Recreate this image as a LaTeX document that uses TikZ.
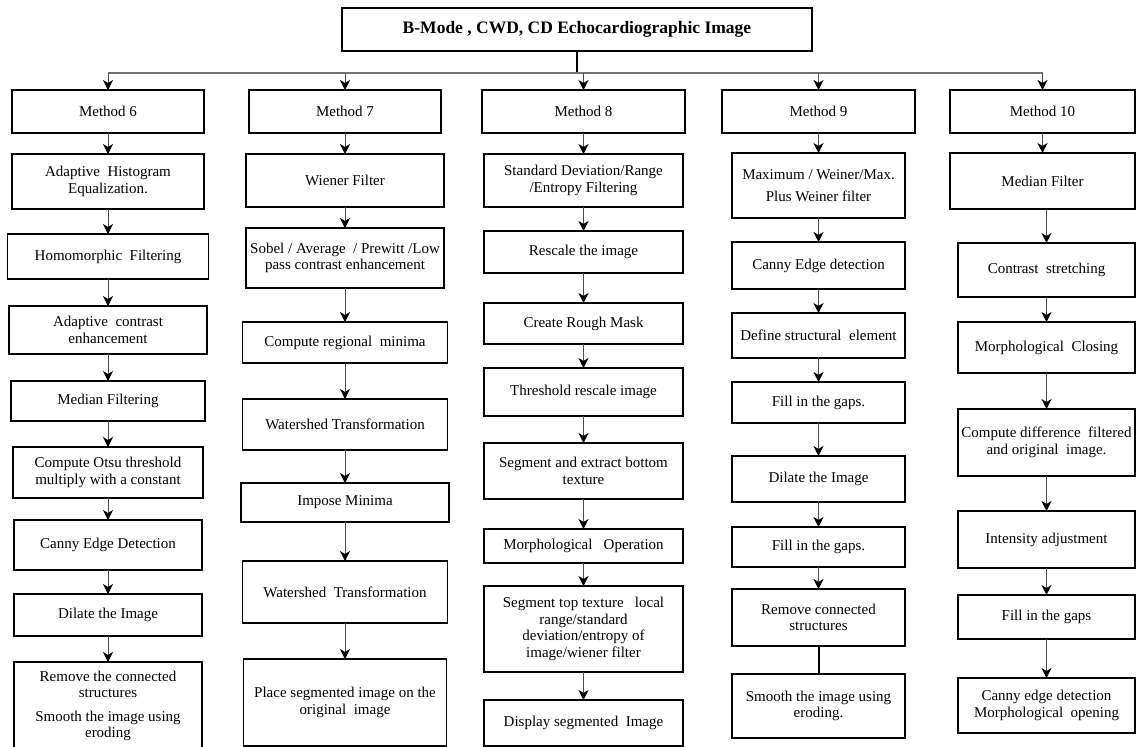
\documentclass[tikz,border=0pt]{standalone}
\usepackage{fontspec}
\setmainfont{Liberation Serif}
\usetikzlibrary{positioning,arrows.meta}

\tikzset{
  stepbox/.style={draw, line width=1.1pt, inner sep=0pt, outer sep=0pt, align=center,
    font=\fontsize{15}{16.5}\selectfont},
  boxsize/.style 2 args={minimum width=#1, minimum height=#2},
  flow/.style={draw=black!70, line width=1pt,
    -{Stealth[length=10pt,width=10pt,inset=3pt,color=black]}},
  trunk/.style={draw, line width=2pt},
  busline/.style={draw=black!55, line width=1.6pt},
}

\begin{document}
\begin{tikzpicture}[x=1pt,y=-1pt]
  \clip (0,0) rectangle (1136,747);
  \fill[white] (0,0) rectangle (1136,747);

  % source image
  \node[stepbox, boxsize={470pt}{43pt}, font=\fontsize{17.5}{20}\selectfont\bfseries] (title) at (577,29.5)
    {B-Mode , CWD, CD Echocardiographic Image};
  \coordinate (bus) at (577,73);

  % method 6
  \node[stepbox, boxsize={192pt}{43pt}] (m6) at (108,111.5) {Method 6};
  \node[stepbox, boxsize={192pt}{55pt}, below=21pt of m6] (c1a) {Adaptive\ \ Histogram\\Equalization.};
  \node[stepbox, boxsize={201pt}{45pt}, below=25pt of c1a] (c1b) {Homomorphic\ \ Filtering};
  \node[stepbox, boxsize={198pt}{48pt}, below=27pt of c1b] (c1c) {Adaptive\ \ contrast\\enhancement};
  \node[stepbox, boxsize={194pt}{40pt}, below=27pt of c1c] (c1d) {Median Filtering};
  \node[stepbox, boxsize={190pt}{51pt}, below=26pt of c1d] (c1e) {Compute Otsu threshold\\multiply with a constant};
  \node[stepbox, boxsize={188pt}{50pt}, below=22pt of c1e] (c1f) {Canny Edge Detection};
  \node[stepbox, boxsize={188pt}{42pt}, below=24pt of c1f] (c1g) {Dilate the Image};
  \node[stepbox, boxsize={188pt}{88pt}, below=26pt of c1g] (c1h)
    {Remove the connected\\structures\\[7pt]Smooth the image using\\eroding};

  % method 7
  \node[stepbox, boxsize={192pt}{43pt}] (m7) at (345,111.5) {Method 7};
  \node[stepbox, boxsize={198pt}{53pt}, below=21pt of m7] (c2a) {Wiener Filter};
  \node[stepbox, boxsize={198pt}{60pt}, below=21pt of c2a] (c2b) {Sobel / Average\ \ / Prewitt /Low\\pass contrast enhancement};
  \node[stepbox, boxsize={205pt}{41pt}, below=34pt of c2b] (c2c) {Compute regional\ \ minima};
  \node[stepbox, boxsize={205pt}{51pt}, below=36pt of c2c] (c2d) {Watershed Transformation};
  \node[stepbox, boxsize={208pt}{39pt}, below=33pt of c2d] (c2e) {Impose Minima};
  \node[stepbox, boxsize={205pt}{62pt}, below=39pt of c2e] (c2f) {Watershed\ \ Transformation};
  \node[stepbox, boxsize={203pt}{87pt}, below=36pt of c2f] (c2g) {Place segmented image on the\\original\ \ image};

  % method 8
  \node[stepbox, boxsize={203pt}{43pt}] (m8) at (583.5,111.5) {Method 8};
  \node[stepbox, boxsize={199pt}{53pt}, below=21pt of m8] (c3a) {Standard Deviation/Range\\/Entropy Filtering};
  \node[stepbox, boxsize={199pt}{42pt}, below=24pt of c3a] (c3b) {Rescale the image};
  \node[stepbox, boxsize={199pt}{41pt}, below=30pt of c3b] (c3c) {Create Rough Mask};
  \node[stepbox, boxsize={199pt}{48pt}, below=24pt of c3c] (c3d) {Threshold rescale image};
  \node[stepbox, boxsize={199pt}{56pt}, below=27pt of c3d] (c3e) {Segment and extract bottom\\texture};
  \node[stepbox, boxsize={199pt}{34pt}, below=30pt of c3e] (c3f) {Morphological\ \ \ Operation};
  \node[stepbox, boxsize={199pt}{86pt}, below=23pt of c3f] (c3g)
    {Segment top texture\ \ \ local\\range/standard\\deviation/entropy of\\image/wiener filter};
  \node[stepbox, boxsize={199pt}{46pt}, below=28pt of c3g] (c3h) {Display segmented\ \ Image};

  % method 9
  \node[stepbox, boxsize={193pt}{43pt}] (m9) at (818.5,111.5) {Method 9};
  \node[stepbox, boxsize={173pt}{65pt}, below=20pt of m9] (c4a) {Maximum / Weiner/Max.\\[6pt]Plus Weiner filter};
  \node[stepbox, boxsize={173pt}{47pt}, below=24pt of c4a] (c4b) {Canny Edge detection};
  \node[stepbox, boxsize={173pt}{45pt}, below=24pt of c4b] (c4c) {Define structural\ \ element};
  \node[stepbox, boxsize={173pt}{41pt}, below=24pt of c4c] (c4d) {Fill in the gaps.};
  \node[stepbox, boxsize={173pt}{46pt}, below=33pt of c4d] (c4e) {Dilate the Image};
  \node[stepbox, boxsize={173pt}{40pt}, below=25pt of c4e] (c4f) {Fill in the gaps.};
  \node[stepbox, boxsize={173pt}{57pt}, below=22pt of c4f] (c4g) {Remove connected\\structures};
  \node[stepbox, boxsize={173pt}{64pt}, below=28pt of c4g] (c4h) {Smooth the image using\\eroding.};

  % method 10
  \node[stepbox, boxsize={185pt}{43pt}] (m10) at (1042.5,111.5) {Method 10};
  \node[stepbox, boxsize={185pt}{56pt}, below=20pt of m10] (c5a) {Median Filter};
  \node[stepbox, boxsize={177pt}{54pt}, below=34pt of c5a, xshift=4pt] (c5b) {Contrast\ \ stretching};
  \node[stepbox, boxsize={177pt}{51pt}, below=25pt of c5b] (c5c) {Morphological\ \ Closing};
  \node[stepbox, boxsize={177pt}{67pt}, below=36pt of c5c] (c5d) {Compute difference\ \ filtered\\and original\ \ image.};
  \node[stepbox, boxsize={177pt}{57pt}, below=35pt of c5d] (c5e) {Intensity adjustment};
  \node[stepbox, boxsize={177pt}{44pt}, below=27pt of c5e] (c5f) {Fill in the gaps};
  \node[stepbox, boxsize={177pt}{55pt}, below=39pt of c5f] (c5g) {Canny edge detection\\Morphological\ \ opening};

  % branches
  \draw[trunk] (title) -- (bus);
  \draw[busline] (bus -| m6) -- (bus -| m10);
  \foreach \m in {m6,m7,m8,m9,m10}
    \draw[flow] (bus -| \m.north) -- (\m.north);

  % steps
  \foreach \a/\b in {m6/c1a,c1a/c1b,c1b/c1c,c1c/c1d,c1d/c1e,c1e/c1f,c1f/c1g,c1g/c1h,
                     m7/c2a,c2a/c2b,c2b/c2c,c2c/c2d,c2d/c2e,c2e/c2f,c2f/c2g,
                     m8/c3a,c3a/c3b,c3b/c3c,c3c/c3d,c3d/c3e,c3e/c3f,c3f/c3g,c3g/c3h,
                     m9/c4a,c4a/c4b,c4b/c4c,c4c/c4d,c4d/c4e,c4e/c4f,c4f/c4g,
                     m10/c5a,c5a/c5b,c5b/c5c,c5c/c5d,c5d/c5e,c5e/c5f,c5f/c5g}
    \draw[flow] (\b.north |- \a.south) -- (\b.north);
  \draw[trunk] (c4g) -- (c4h);
\end{tikzpicture}
\end{document}
